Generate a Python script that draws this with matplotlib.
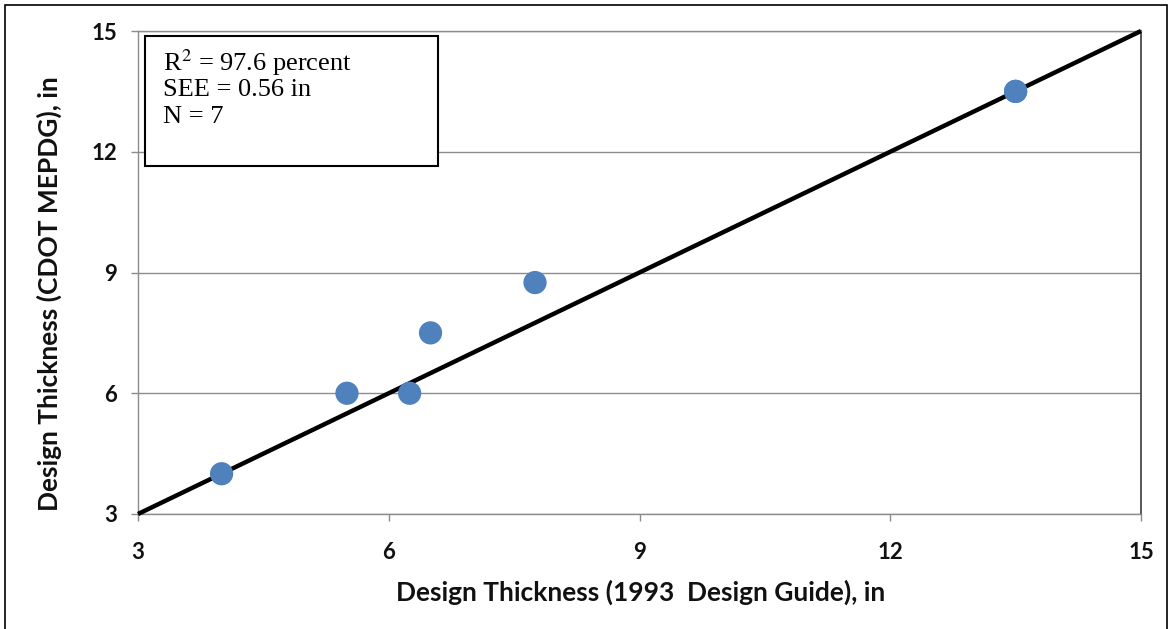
import matplotlib
matplotlib.use("Agg")
import matplotlib.pyplot as plt
from matplotlib.patches import Rectangle

# Design thickness comparisons (inches)
guide_1993 = [4.0, 5.5, 6.25, 6.5, 7.75, 13.5, 13.5]
cdot_mepdg = [4.0, 6.0, 6.0, 7.5, 8.75, 13.5, 13.5]

# Line of equality
equality_x = [3, 15]
equality_y = [3, 15]

ticks = [3, 6, 9, 12, 15]
stats_lines = [r"R$^{2}$ = 97.6 percent", "SEE = 0.56 in", "N = 7"]
x_label = "Design Thickness (1993  Design Guide), in"
y_label = "Design Thickness (CDOT MEPDG), in"

plt.rcParams["mathtext.fontset"] = "stix"
plt.rcParams["font.family"] = ["Lato", "DejaVu Sans"]

W, H = 1171, 629
fig = plt.figure(figsize=(W / 100, H / 100), dpi=100)
ax = fig.add_axes([138 / W, 1 - 514 / H, (1141 - 138) / W, (514 - 31) / H])

ax.set_xlim(ticks[0], ticks[-1])
ax.set_ylim(ticks[0], ticks[-1])
ax.set_xticks(ticks)
ax.set_yticks(ticks)

grid_col = "#8c8c8c"
ax.yaxis.grid(True, color=grid_col, linewidth=1.0)
ax.set_axisbelow(True)
for side in ["left", "bottom", "top"]:
    ax.spines[side].set_color(grid_col)
    ax.spines[side].set_linewidth(1.0)
ax.spines["right"].set_color("#4a4a4a")
ax.spines["right"].set_linewidth(1.3)

ax.tick_params(axis="both", direction="out", length=5, width=1.0, color=grid_col,
               labelsize=16, labelcolor="#111111")
ax.tick_params(axis="x", pad=15)
ax.tick_params(axis="y", pad=10)

ax.plot(equality_x, equality_y, color="black", linewidth=3.2, solid_capstyle="butt", zorder=3, clip_on=False)
ax.scatter(guide_1993, cdot_mepdg, s=280, color="#4f81bd", edgecolors="none", zorder=4)

fig.text(641 / W, 1 - 592 / H, x_label, ha="center", va="center",
         fontweight="bold", fontsize=19, color="#111111")
fig.text(49 / W, 1 - 294 / H, y_label, ha="center", va="center", rotation=90,
         fontweight="bold", fontsize=19, color="#111111")

# Statistics box
fig.patches.append(Rectangle((145 / W, 1 - 166 / H), (438 - 145) / W, (166 - 36) / H,
                             transform=fig.transFigure, facecolor="white",
                             edgecolor="black", linewidth=1.5, zorder=5))
for i, line in enumerate(stats_lines):
    fig.text(163 / W, 1 - (63 + 27 * i) / H, line, ha="left", va="center",
             fontfamily="Liberation Serif", fontsize=19, color="black", zorder=6)

# Outer frame
fig.patches.append(Rectangle((5 / W, -0.05), (1167 - 5) / W, 1.05 - 5 / H,
                             transform=fig.transFigure, facecolor="none",
                             edgecolor="black", linewidth=1.2, zorder=7))

fig.canvas.draw()
for lab in ax.get_xticklabels() + ax.get_yticklabels():
    lab.set_fontweight("bold")

fig.savefig("out.png", dpi=100)
